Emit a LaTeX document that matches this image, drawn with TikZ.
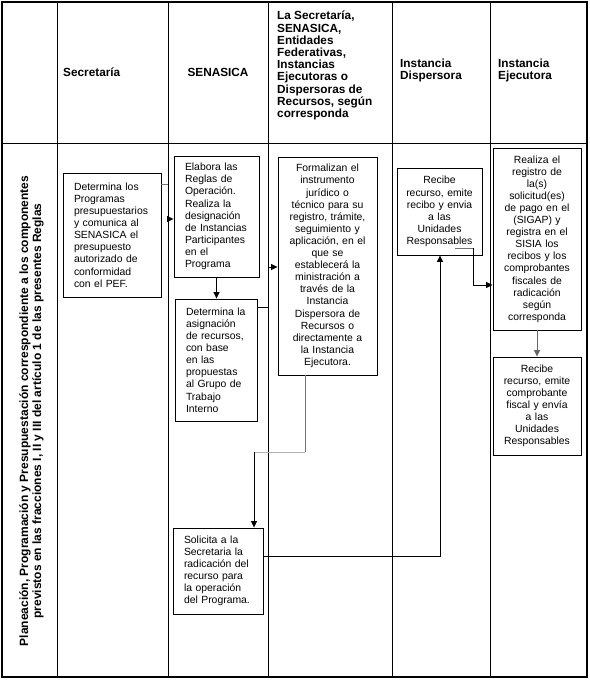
\documentclass[tikz,border=0pt]{standalone}
\usepackage{fontspec}
\setmainfont{Liberation Sans}
\usetikzlibrary{arrows.meta,shadows}
\begin{document}
\begin{tikzpicture}[x=1pt,y=-1pt,
  grid/.style={draw=black,line width=1pt},
  outer/.style={draw=black,line width=1.5pt},
  box/.style={draw=black,line width=0.9pt,fill=white,inner ysep=0pt,
    font=\fontsize{10.4}{12.1}\selectfont,
    drop shadow={shadow xshift=1.2pt,shadow yshift=-1.2pt,fill=black,opacity=1}},
  lbox/.style={box,align=left,inner xsep=11pt},
  cbox/.style={box,align=center,inner xsep=2pt},
  head/.style={inner sep=0pt,font=\fontsize{11.8}{12.2}\selectfont\bfseries,align=left},
  arr/.style={draw=black,line width=0.8pt,-{Triangle[length=6.5pt,width=6pt]}},
  con/.style={draw=black,line width=0.8pt},
  gcon/.style={draw=black!55,line width=0.8pt},
  lgcon/.style={draw=black!30,line width=0.8pt}
]
\fill[white] (0,0) rectangle (589,680);
\useasboundingbox (0,0) rectangle (589,680);

% table grid
\draw[outer] (2,2) rectangle (587,677);
\draw[grid] (2,143) -- (587,143);
\foreach \x in {57,168,268,392,490} \draw[grid] (\x,2) -- (\x,677);

% headers
\node[head,anchor=west] (h1) at (63,72) {Secretaría};
\node[head,anchor=center] (h2) at (218,72) {SENASICA};
\node[head,anchor=west] (h3) at (277,65.5) {La Secretaría,\\SENASICA,\\Entidades\\Federativas,\\Instancias\\Ejecutoras o\\Dispersoras de\\Recursos, según\\corresponda};
\node[head,anchor=west] (h4) at (400,70.5) {Instancia\\Dispersora};
\node[head,anchor=west] (h5) at (498,70.5) {Instancia\\Ejecutora};

% row label
\node[inner sep=0pt,rotate=90,align=center,font=\fontsize{12}{13}\selectfont\bfseries] (rl) at (31.5,411)
  {Planeación, Programación y Presupuestación correspondiente a los componentes\\previstos en las fracciones I, II y III del artículo 1 de las presentes Reglas};

% boxes
\node[lbox,text width=76pt,minimum height=124pt] (b1) at (112,235)
  {Determina los\\Programas\\presupuestarios\\y comunica al\\SENASICA el\\presupuesto\\autorizado de\\conformidad\\con el PEF.};
\node[lbox,text width=63pt,minimum height=121pt] (b2) at (216.5,216.5)
  {Elabora las\\Reglas de\\Operación.\\Realiza la\\designación\\de Instancias\\Participantes\\en el\\Programa};
\node[lbox,text width=60pt,minimum height=122pt] (b3) at (216,360)
  {Determina la\\asignación\\de recursos,\\con base\\en las\\propuestas\\al Grupo de\\Trabajo\\Interno};
\node[cbox,text width=95pt,minimum height=218pt] (b4) at (327.5,266)
  {Formalizan el\\instrumento\\jurídico o\\técnico para su\\registro, trámite,\\seguimiento y\\aplicación, en el\\que se\\establecerá la\\ministración a\\través de la\\Instancia\\Dispersora de\\Recursos o\\directamente a\\la Instancia\\Ejecutora.};
\node[cbox,text width=81pt,minimum height=87pt] (b5) at (439.5,211.5)
  {Recibe\\recurso, emite\\recibo y envia\\a las\\Unidades\\Responsables};
\node[cbox,text width=84pt,minimum height=182pt] (b6) at (537,239)
  {Realiza el\\registro de\\la(s)\\solicitud(es)\\de pago en el\\(SIGAP) y\\registra en el\\SISIA los\\recibos y los\\comprobantes\\fiscales de\\radicación\\según\\corresponda};
\node[cbox,text width=84pt,minimum height=98pt] (b7) at (537,406)
  {Recibe\\recurso, emite\\comprobante\\fiscal y envía\\a las\\Unidades\\Responsables};
\node[lbox,text width=68pt,minimum height=86pt] (b8) at (218,571)
  {Solicita a la\\Secretaria la\\radicación del\\recurso para\\la operación\\del Programa.};

% connectors
\coordinate (k1) at (168,184);
\coordinate (k2) at (168,219);
\draw[gcon] (b1.east |- k1) -- (k1);
\draw[con] (k1) -- (k2);
\draw[arr] (k2) -- (b2.west |- k2);

\draw[arr] (b2.south) -- (b2.south |- b3.north);

\coordinate (k3) at (268,307);
\coordinate (k4) at (268,267);
\draw[arr] (b3.east |- k3) -- (k3) -- (k4) -- (b4.west |- k4);

\coordinate (k5) at (305,452);
\coordinate (k6) at (254,452);
\draw[gcon] (b4.south -| k5) -- (k5);
\draw[lgcon] (k5) -- (k6);
\draw[arr] (k6) -- (b8.north -| k6);

\coordinate (k7) at (440,556);
\draw[arr] (b8.east |- k7) -- (k7) -- (b5.south -| k7);

\coordinate (k8) at (455,248);
\coordinate (k9) at (473,248);
\coordinate (k10) at (473,285);
\draw[gcon] (k8) -- (k9);
\draw[con] (k9) -- (k10);
\draw[arr] (k10) -- (b6.west |- k10);

\draw[arr,draw=black!60] (b6.south) -- (b7.north);
\end{tikzpicture}
\end{document}
